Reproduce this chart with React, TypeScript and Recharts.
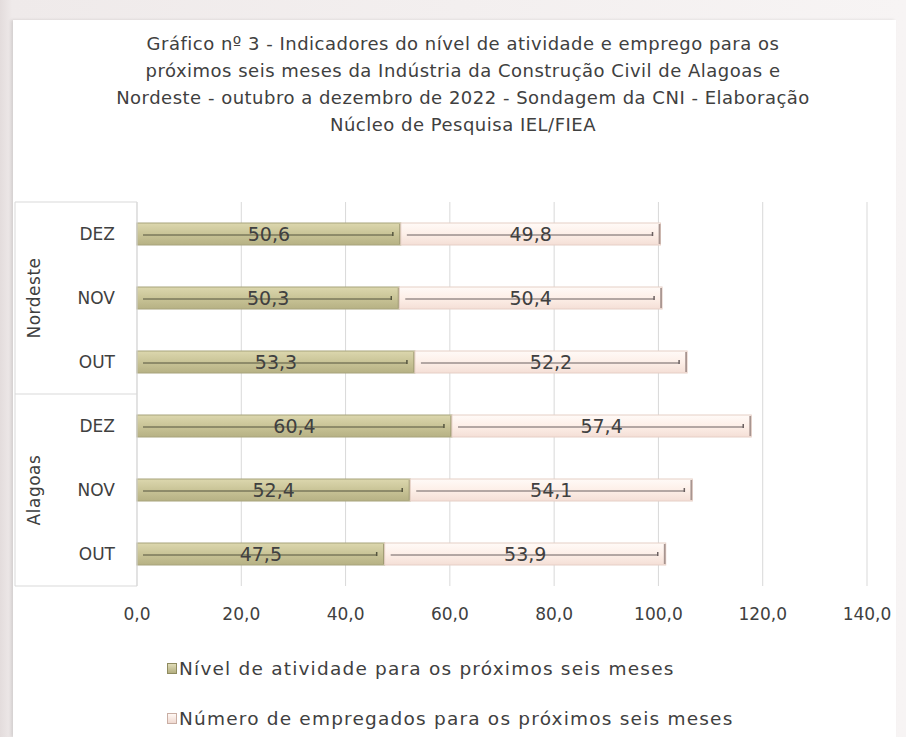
import React from 'react';
import { BarChart, Bar, XAxis, YAxis, CartesianGrid, LabelList, Legend } from 'recharts';

const months = ['DEZ', 'NOV', 'OUT', 'DEZ', 'NOV', 'OUT'];
const regions = ['Nordeste', 'Nordeste', 'Nordeste', 'Alagoas', 'Alagoas', 'Alagoas'];
const atividade = [50.6, 50.3, 53.3, 60.4, 52.4, 47.5];
const empregados = [49.8, 50.4, 52.2, 57.4, 54.1, 53.9];
const xTicks = [0, 20, 40, 60, 80, 100, 120, 140];
const seriesNames = [
  'Nível de atividade para os próximos seis meses',
  'Número de empregados para os próximos seis meses',
];
const titleLines = [
  'Gráfico nº 3 - Indicadores do nível de atividade e emprego para os',
  'próximos seis meses da Indústria da Construção Civil de Alagoas e',
  'Nordeste - outubro a dezembro de 2022 - Sondagem da CNI - Elaboração',
  'Núcleo de Pesquisa IEL/FIEA',
];

const data = months.map((m, i) => ({
  key: `${regions[i]}-${m}`,
  month: m,
  region: regions[i],
  atividade: atividade[i],
  empregados: empregados[i],
}));

const FONT = '"DejaVu Sans", Verdana, sans-serif';
const TXT = '#404040';
const W = 906;
const H = 737;
const TOP = 202;
const PLOT_BOTTOM = 586;
const AXIS_X = 137;
const BOX_LEFT = 15;
const BAND = (PLOT_BOTTOM - TOP) / data.length;

const fmt = (v: any) => Number(v).toFixed(1).replace('.', ',');

const makeShape = (kind: 'a' | 'e') => (props: any) => {
  const { x, y, width, height } = props;
  const c = kind === 'a'
    ? { fill: 'url(#gA)', border: '#a8a47c', line: '#55553f', edge: '#9a9670' }
    : { fill: 'url(#gE)', border: '#e6cfc6', line: '#6a6060', edge: '#a89590' };
  const cy = y + height / 2 + 1;
  return (
    <g>
      <rect x={x} y={y} width={width} height={height} fill={c.fill} stroke={c.border} strokeWidth={1} />
      <line x1={x + 6} x2={x + width - 8} y1={cy} y2={cy} stroke={c.line} strokeWidth={1.1} />
      <line x1={x + width - 8} x2={x + width - 8} y1={cy - 3} y2={cy + 1} stroke={c.line} strokeWidth={1.5} />
      <line x1={x + width - 1} x2={x + width - 1} y1={y + 1} y2={y + height - 1} stroke={c.edge} strokeWidth={kind === 'e' ? 1.8 : 1} />
    </g>
  );
};

const CatTick = (props: any) => {
  const { y, index } = props;
  const d = data[index];
  const top = y - BAND / 2;
  return (
    <g>
      <text x={AXIS_X - 22} y={y} dy={6} textAnchor="end" fill={TXT} fontSize={17} fontFamily={FONT}>
        {d.month}
      </text>
      {(index === 1 || index === 4) && (
        <text
          x={34}
          y={y}
          transform={`rotate(-90 34 ${y})`}
          textAnchor="middle"
          dy={6}
          fill={TXT}
          fontSize={17}
          letterSpacing={0.5}
          fontFamily={FONT}
        >
          {d.region}
        </text>
      )}
      {(index === 0 || index === 3) && (
        <line x1={BOX_LEFT} x2={AXIS_X} y1={top} y2={top} stroke="#d9d9d9" />
      )}
      {index === 0 && (
        <line x1={BOX_LEFT} x2={BOX_LEFT} y1={top} y2={top + BAND * data.length} stroke="#d9d9d9" />
      )}
      {index === data.length - 1 && (
        <line x1={BOX_LEFT} x2={AXIS_X} y1={y + BAND / 2} y2={y + BAND / 2} stroke="#d9d9d9" />
      )}
    </g>
  );
};

const LegendContent = () => {
  const items = [
    { name: seriesNames[0], grad: 'linear-gradient(#e0dcb8, #b3ae80)', border: '#8f8b60' },
    { name: seriesNames[1], grad: 'linear-gradient(#fff8f4, #efd9d0)', border: '#c9aea4' },
  ];
  return (
    <div style={{ fontFamily: FONT, color: TXT, fontSize: 18.5, letterSpacing: 1.2 }}>
      {items.map((it, i) => (
        <div key={i} style={{ display: 'flex', alignItems: 'center', height: 26, marginBottom: i === 0 ? 24 : 0, whiteSpace: 'nowrap' }}>
          <span
            style={{
              display: 'inline-block',
              width: 8,
              height: 9,
              background: it.grad,
              border: `1px solid ${it.border}`,
              marginRight: 2,
            }}
          />
          <span>{it.name}</span>
        </div>
      ))}
    </div>
  );
};

export default function App() {
  return (
    <div
      style={{
        position: 'absolute',
        left: 0,
        top: 0,
        width: W,
        height: H,
        background: 'linear-gradient(90deg, #e3dcdc 0px, #efeaea 12px, #f7f4f4 100%)',
        overflow: 'hidden',
      }}
    >
      <div
        style={{
          position: 'absolute',
          left: 13,
          top: 20,
          width: 883,
          height: 717,
          background: '#ffffff',
          boxShadow: '-2px 0 3px rgba(0,0,0,0.12)',
        }}
      />
      <div
        style={{
          position: 'absolute',
          left: 0,
          top: 30,
          width: W,
          textAlign: 'center',
          fontFamily: FONT,
          fontSize: 18,
          letterSpacing: 0.5,
          color: TXT,
          lineHeight: '27px',
          paddingLeft: 20,
          boxSizing: 'border-box',
          whiteSpace: 'nowrap',
        }}
      >
        {titleLines.map((t, i) => (
          <div key={i}>{t}</div>
        ))}
      </div>
      <div style={{ position: 'absolute', left: 0, top: 0 }}>
        <BarChart
          width={W}
          height={H}
          data={data}
          layout="vertical"
          margin={{ top: TOP, right: 39, bottom: H - PLOT_BOTTOM - 40, left: BOX_LEFT }}
          barSize={22}
        >
          <defs>
            <linearGradient id="gA" x1="0" y1="0" x2="0" y2="1">
              <stop offset="0%" stopColor="#dcd7ae" />
              <stop offset="50%" stopColor="#c9c497" />
              <stop offset="100%" stopColor="#b6b184" />
            </linearGradient>
            <linearGradient id="gE" x1="0" y1="0" x2="0" y2="1">
              <stop offset="0%" stopColor="#fffaf7" />
              <stop offset="50%" stopColor="#fdefe8" />
              <stop offset="100%" stopColor="#f4dfd6" />
            </linearGradient>
          </defs>
          <CartesianGrid horizontal={false} vertical={true} stroke="#d9d9d9" />
          <XAxis
            type="number"
            domain={[0, 140]}
            ticks={xTicks}
            tickFormatter={fmt}
            axisLine={false}
            tickLine={false}
            tickMargin={16}
            height={40}
            tick={{ fill: TXT, fontSize: 17, fontFamily: FONT }}
          />
          <YAxis
            type="category"
            dataKey="key"
            width={AXIS_X - BOX_LEFT}
            interval={0}
            axisLine={{ stroke: '#d9d9d9' }}
            tickLine={false}
            tick={<CatTick />}
          />
          <Legend
            layout="vertical"
            verticalAlign="middle"
            align="center"
            content={<LegendContent />}
            wrapperStyle={{ position: 'absolute', top: 655, left: 167, width: 720 }}
          />
          <Bar
            dataKey="atividade"
            name={seriesNames[0]}
            stackId="s"
            fill="#c9c497"
            shape={makeShape('a')}
            isAnimationActive={false}
          >
            <LabelList dataKey="atividade" position="center" formatter={fmt} fill={TXT} fontSize={19} fontFamily={FONT} />
          </Bar>
          <Bar
            dataKey="empregados"
            name={seriesNames[1]}
            stackId="s"
            fill="#fdefe8"
            shape={makeShape('e')}
            isAnimationActive={false}
          >
            <LabelList dataKey="empregados" position="center" formatter={fmt} fill={TXT} fontSize={19} fontFamily={FONT} />
          </Bar>
        </BarChart>
      </div>
    </div>
  );
}
